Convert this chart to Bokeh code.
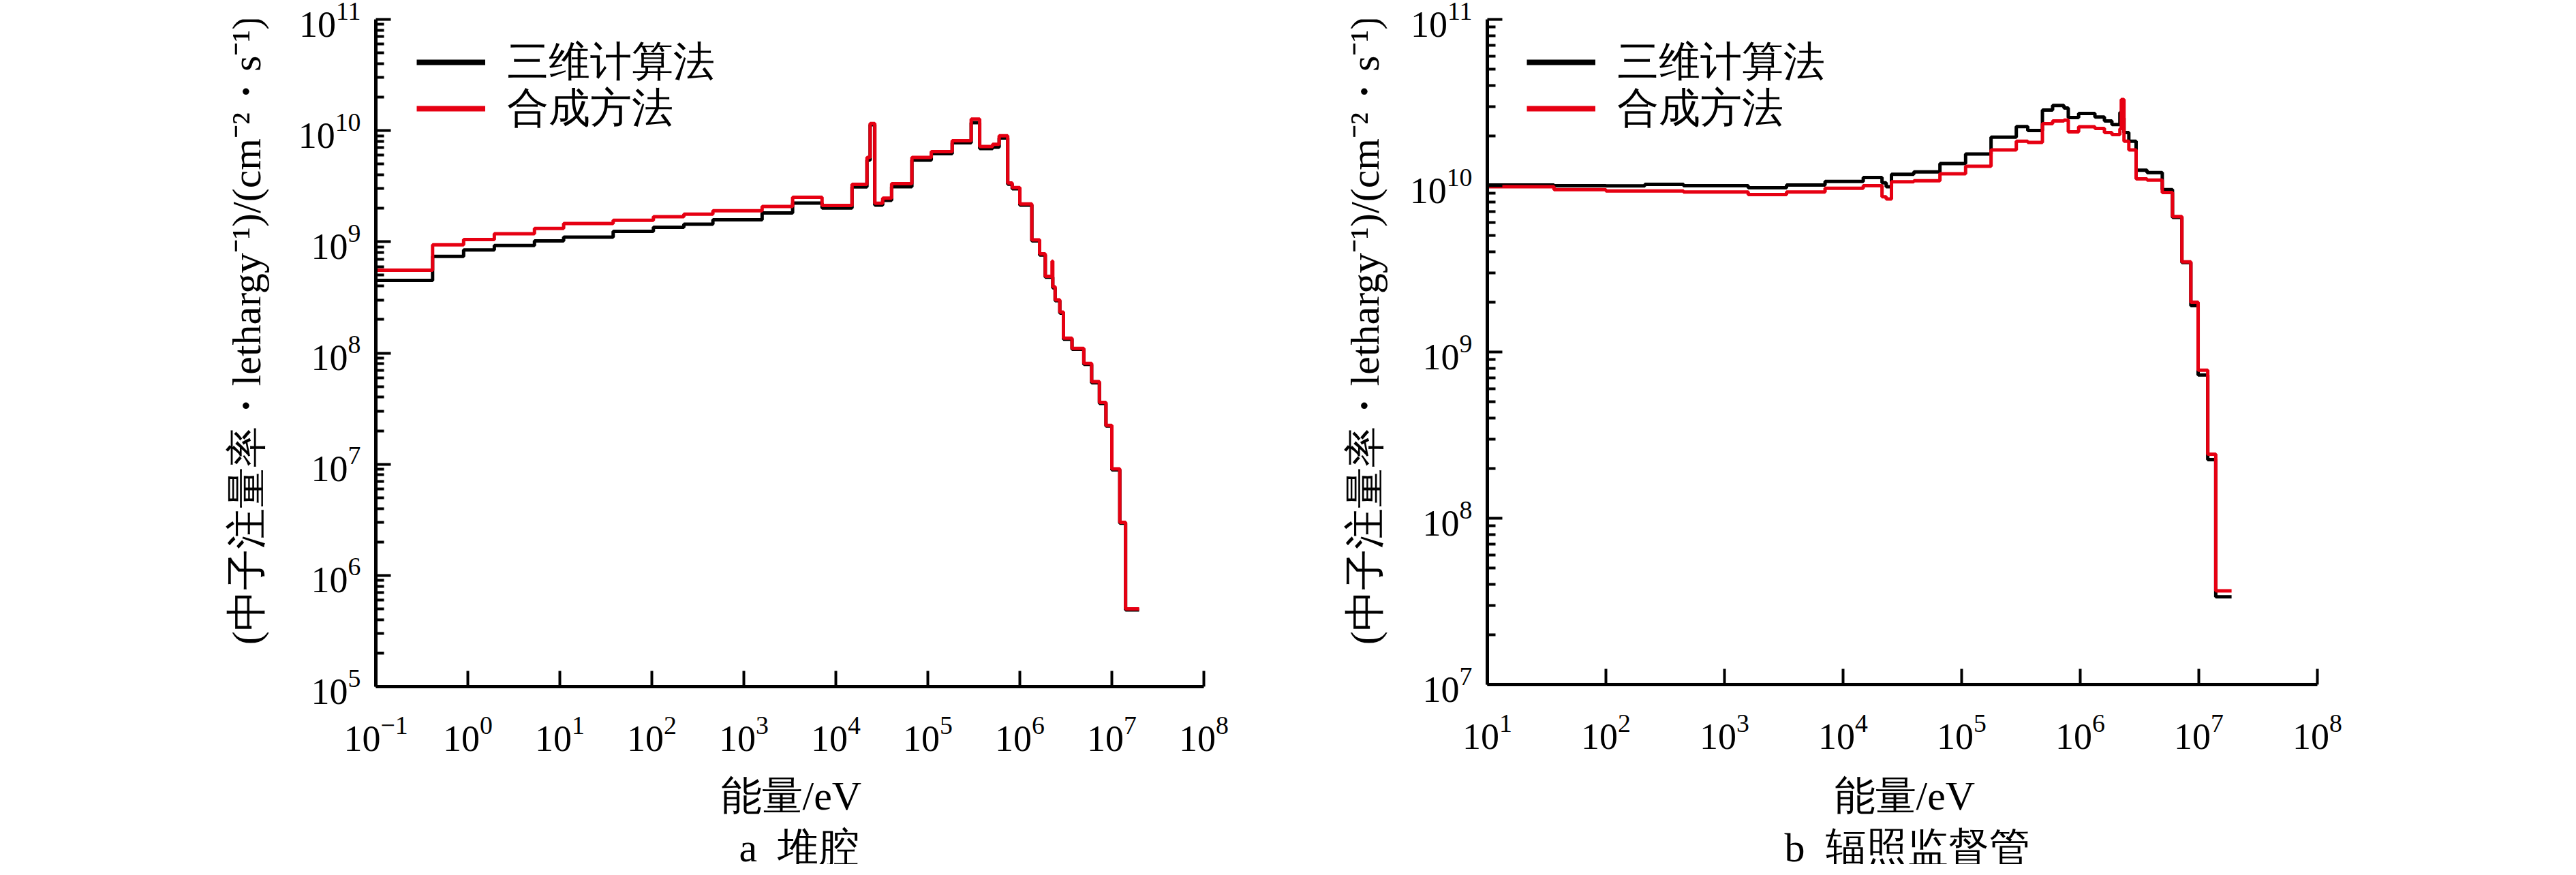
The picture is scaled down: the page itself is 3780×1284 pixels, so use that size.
import math
from bokeh.plotting import figure
from bokeh.models import FixedTicker, Legend, LegendItem, Range1d
from bokeh.core.properties import value
from bokeh.layouts import row, column
from bokeh.embed import file_html
from bokeh.resources import INLINE

# ---------------- data: panel a (堆腔) ----------------
edges_a = [0.1, 0.414, 0.9, 1.94, 5.3, 11, 38, 104, 223, 461, 1580, 3390, 7080,
           15000, 21800, 23600, 26500, 32300, 40400, 67100, 1.09e5, 1.84e5, 2.96e5,
           3.66e5, 5.06e5, 5.96e5, 7.38e5, 8.26e5, 1.0e6, 1.35e6, 1.64e6, 1.89e6,
           2.24e6, 2.28e6, 2.42e6, 2.72e6, 2.98e6, 3.69e6, 4.96e6, 6.03e6, 7.33e6,
           8.63e6, 1.0e7, 1.22e7, 1.41e7, 1.98e7]
red_a = [5.56e8, 9.4e8, 1.05e9, 1.18e9, 1.32e9, 1.46e9, 1.56e9, 1.68e9, 1.77e9, 1.9e9,
         2.08e9, 2.51e9, 2.12e9, 3.29e9, 5.74e9, 1.16e10, 2.22e9, 2.47e9, 3.33e9, 5.74e9,
         6.47e9, 8.1e9, 1.27e10, 7.2e9, 7.52e9, 9.0e9, 3.38e9, 3.07e9, 2.19e9, 1.04e9,
         7.79e8, 4.9e8, 6.7e8, 3.94e8, 3.01e8, 2.33e8, 1.36e8, 1.1e8, 8.06e7, 5.52e7,
         3.59e7, 2.23e7, 9.08e6, 3.0e6, 5.0e5]
black_a = [4.5e8, 7.4e8, 8.45e8, 9.25e8, 1.02e9, 1.1e9, 1.24e9, 1.35e9, 1.44e9, 1.58e9,
           1.82e9, 2.23e9, 2.01e9, 3.12e9, 5.43e9, 1.13e10, 2.14e9, 2.36e9, 3.13e9, 5.43e9,
           6.2e9, 7.77e9, 1.18e10, 6.9e9, 7.1e9, 8.58e9, 3.3e9, 3.0e9, 2.14e9, 1.02e9,
           7.6e8, 4.8e8, 4.8e8, 3.85e8, 2.95e8, 2.28e8, 1.33e8, 1.08e8, 7.9e7, 5.4e7,
           3.52e7, 2.2e7, 8.9e6, 2.95e6, 4.9e5]

# ---------------- data: panel b (辐照监督管) ----------------
edges_b = [10, 36.5, 100, 213, 451, 1585, 3336, 7050, 14800, 21300, 23100, 25600,
           39500, 65600, 1.08e5, 1.77e5, 2.89e5, 3.61e5, 4.8e5, 5.85e5, 7.29e5, 7.93e5,
           9.7e5, 1.33e6, 1.6e6, 1.85e6, 2.16e6, 2.22e6, 2.34e6, 2.57e6, 2.96e6, 3.66e6,
           4.92e6, 6.0e6, 7.2e6, 8.57e6, 9.87e6, 1.19e7, 1.39e7, 1.89e7]
red_b = [9.85e9, 9.48e9, 9.3e9, 9.3e9, 9.17e9, 8.84e9, 9.17e9, 9.66e9, 1.0e10, 8.58e9,
         8.32e9, 1.055e10, 1.07e10, 1.18e10, 1.31e10, 1.64e10, 1.85e10, 1.82e10, 2.36e10,
         2.45e10, 2.48e10, 2.11e10, 2.26e10, 2.21e10, 2.09e10, 2.03e10, 2.2e10, 3.3e10,
         1.85e10, 1.64e10, 1.1e10, 1.08e10, 9.11e9, 6.52e9, 3.48e9, 1.99e9, 7.77e8,
         2.43e8, 3.66e7]
black_b = [1.01e10, 1.0e10, 9.98e9, 1.02e10, 1.0e10, 9.73e9, 1.01e10, 1.06e10, 1.12e10,
           1.04e10, 9.85e9, 1.17e10, 1.21e10, 1.36e10, 1.55e10, 1.96e10, 2.27e10, 2.15e10,
           2.85e10, 3.04e10, 2.93e10, 2.57e10, 2.72e10, 2.59e10, 2.45e10, 2.33e10, 2.76e10,
           2.55e10, 2.09e10, 1.85e10, 1.24e10, 1.2e10, 9.47e9, 6.45e9, 3.45e9, 1.9e9,
           7.27e8, 2.25e8, 3.37e7]

series_names = ["三维计算法", "合成方法"]
x_label = "能量/eV"
y_label = "(中子注量率・lethargy⁻¹)/(cm⁻²・s⁻¹)"
subtitles = ["a\u00a0\u00a0堆腔", "b\u00a0\u00a0辐照监督管"]

RED = "#e60012"
SERIF = "Liberation Serif"
TOP_H = 1125           # height of the plot row
TEXT_H = 1268 - TOP_H  # height of the caption row


def make_panel(edges, red, black, xexp, yexp, frame_w, frame_h,
               border_left, border_right, legend_vx):
    x_lo, x_hi = xexp
    y_lo, y_hi = yexp
    p = figure(x_axis_type="log", y_axis_type="log",
               x_range=(10.0 ** x_lo, 10.0 ** x_hi), y_range=(10.0 ** y_lo, 10.0 ** y_hi),
               frame_width=frame_w, frame_height=frame_h,
               min_border_left=border_left, min_border_right=border_right,
               min_border_top=28, min_border_bottom=TOP_H - 28 - frame_h,
               output_backend="svg", toolbar_location=None)
    p.grid.visible = False
    p.outline_line_color = None
    p.background_fill_color = "white"
    p.border_fill_color = "white"

    p.xaxis.ticker = FixedTicker(ticks=[10.0 ** k for k in range(x_lo, x_hi + 1)])
    p.yaxis.ticker = FixedTicker(
        ticks=[10.0 ** k for k in range(y_lo, y_hi + 1)],
        minor_ticks=[m * 10.0 ** k for k in range(y_lo, y_hi) for m in range(2, 10)])

    p.axis.axis_line_width = 5
    p.axis.axis_line_color = "black"
    p.axis.major_tick_line_width = 4
    p.axis.major_tick_line_color = "black"
    p.axis.major_tick_out = 0
    p.yaxis.major_tick_in = 22
    p.xaxis.major_tick_in = 23
    p.yaxis.minor_tick_in = 12
    p.yaxis.minor_tick_out = 0
    p.yaxis.minor_tick_line_width = 4
    p.yaxis.minor_tick_line_color = "black"
    p.xaxis.minor_tick_line_color = None
    p.axis.major_label_text_font = SERIF
    p.axis.major_label_text_font_size = "54px"
    p.axis.major_label_text_color = "black"
    p.yaxis.major_label_standoff = 22
    p.xaxis.major_label_standoff = 44

    p.step(edges, black + [black[-1]], mode="after", line_color="black", line_width=5)
    p.step(edges, red + [red[-1]], mode="after", line_color=RED, line_width=5)

    # legend swatches (no data of their own)
    lb = p.line(x=[math.nan], y=[math.nan], line_color="black", line_width=8)
    lr = p.line(x=[math.nan], y=[math.nan], line_color=RED, line_width=8)
    for name, rend, row_center in ((series_names[0], lb, 99 - 36),
                                   (series_names[1], lr, 167 - 36)):
        lg = Legend(items=[LegendItem(label=name, renderers=[rend])],
                    location=(legend_vx, frame_h - row_center - 45),
                    padding=0, margin=0, spacing=0,
                    glyph_width=101, glyph_height=90, label_height=90, label_standoff=32,
                    label_text_font=SERIF, label_text_font_size="61px",
                    label_text_color="black",
                    border_line_color=None, background_fill_alpha=0)
        p.add_layout(lg)
    return p


def text_panel(width, height, xs, ys, texts, angle, size):
    q = figure(width=width, height=height, x_range=Range1d(0, width),
               y_range=Range1d(height, 0), min_border=0,
               x_axis_location=None, y_axis_location=None,
               output_backend="svg", toolbar_location=None)
    q.grid.visible = False
    q.outline_line_color = None
    q.background_fill_color = "white"
    q.border_fill_color = "white"
    q.text(x=xs, y=ys, text=texts, angle=angle, text_align="left",
           text_baseline="alphabetic", text_font=value(SERIF),
           text_font_size=value(size), text_color="black")
    return q


# plot row: [y-label a][panel a][y-label b][panel b]
#   (y-label strings start near the bottom and run upwards)
ya = text_panel(400, TOP_H, [369 - 8], [1066 - 8], [y_label], math.pi / 2, "60px")
pa = make_panel(edges_a, red_a, black_a, (-1, 8), (5, 11), 1215, 979, 151, 126, 60)
yb = text_panel(146, TOP_H, [2010 - 1900], [1066 - 8], [y_label], math.pi / 2, "60px")
pb = make_panel(edges_b, red_b, black_b, (1, 8), (7, 11), 1218, 976, 144, 358, 58)

# caption row: x-label and sub-caption under each panel
cap_top = TOP_H + 8
ca = text_panel(1892, TEXT_H, [1065 - 8, 1092 - 8], [1175 - cap_top, 1251 - cap_top],
                [x_label, subtitles[0]], 0, "60px")
cb = text_panel(1866, TEXT_H, [2699 - 1900, 2626 - 1900], [1175 - cap_top, 1251 - cap_top],
                [x_label, subtitles[1]], 0, "60px")

layout = column(row(ya, pa, yb, pb), row(ca, cb))
open("out.html", "w").write(file_html(layout, INLINE))
